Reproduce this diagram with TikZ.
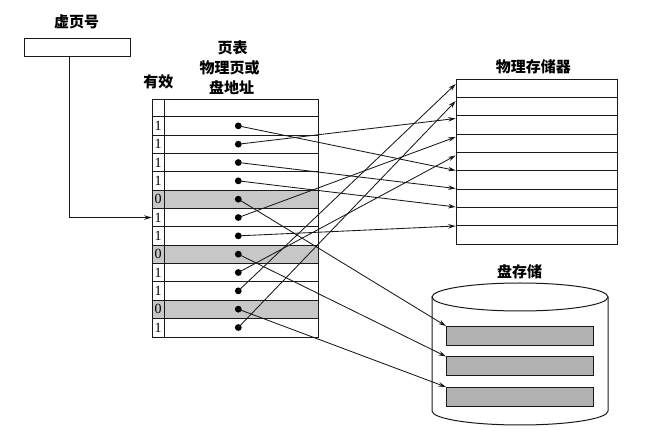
\documentclass[tikz,border=0pt]{standalone}
\usepackage{fontspec}
\newfontfamily\cjk{Noto Sans CJK SC}
\setmainfont{Liberation Serif}
\usetikzlibrary{arrows.meta,calc}
\begin{document}
\begin{tikzpicture}[x=1pt,y=-1pt,
  lbl/.style={font=\cjk\fontsize{15}{17}\selectfont\bfseries, inner sep=0pt},
  bit/.style={font=\fontsize{14}{15}\selectfont, inner sep=0pt},
  frame/.style={draw=black!90, line width=1pt},
  shade/.style={fill=black!22},
  slot/.style={draw=black!90, line width=1pt, fill=black!30},
  dot/.style={circle, fill=black, inner sep=0pt, minimum size=6.8pt},
  link/.style={draw=black!90, line width=0.85pt, -{Stealth[length=7.5pt,width=4.5pt]}}]
\useasboundingbox (0,0) rectangle (665,435);

% virtual page number
\node[lbl] (vlabel) at (76.7,21.7) {虚页号};
\node[frame, minimum width=106pt, minimum height=17.7pt, inner sep=0pt, anchor=north west] (vbox) at (24,38.3) {};
\coordinate (vtap) at (69.3,56);

% page table labels
\node[lbl] (ptlabel) at (232.7,48.3) {页表};
\node[lbl] (pplabel) at (229.7,68.3) {物理页或};
\node[lbl] (dalabel) at (231.7,87.3) {盘地址};
\node[lbl] (vallabel) at (158.3,81.7) {有效};

% page table
\foreach \i in {5,8,11}{
  \fill[shade] (151.7,{116.7+(\i-1)*18.333}) rectangle (317.7,{116.7+\i*18.333});
}
\node[frame, minimum width=166pt, minimum height=237.7pt, inner sep=0pt, anchor=north west] (table) at (151.7,99) {};
\foreach \i in {0,...,11}{
  \draw[frame] (151.7,{116.7+\i*18.333}) -- (317.7,{116.7+\i*18.333});
}
\draw[frame] (164.3,99) -- (164.3,336.7);
\foreach \i/\b in {1/1,2/1,3/1,4/1,5/0,6/1,7/1,8/0,9/1,10/1,11/0,12/1}{
  \node[bit] (b\i) at (158,{116.7+(\i-0.5)*18.333}) {\b};
  \node[dot] (d\i) at (238.3,{116.7+(\i-0.5)*18.333}) {};
}

% virtual page arrow
\coordinate (bend) at (69.3,{116.7+5.5*18.333});
\draw[draw=black!90, line width=0.85pt, -{Stealth[length=7.5pt,width=4.5pt]}] (vtap) -- (bend) -- (table.west |- bend);

% physical memory
\node[lbl] (pmlabel) at (533.3,66.7) {物理存储器};
\node[frame, minimum width=161pt, minimum height=165pt, inner sep=0pt, anchor=north west] (mem) at (455.7,79.3) {};
\foreach \j in {1,...,8}{
  \draw[frame] (455.7,{79.3+\j*18.333}) -- (616.7,{79.3+\j*18.333});
}
\foreach \j/\y in {1/84,2/101,3/118.5,4/137,5/155.5,6/170.5,7/188.5,8/207,9/226}{
  \coordinate (m\j) at (455.7,\y);
}

% disk
\node[lbl] (dklabel) at (519.5,271.7) {盘存储};
\draw[frame] (520,297) ellipse (88pt and 14pt);
\draw[frame] (432,297) -- (432,411) arc[start angle=180, end angle=360, x radius=88pt, y radius=14pt] -- (608,297);
\node[slot, minimum width=147.3pt, minimum height=19pt, inner sep=0pt, anchor=north west] (s1) at (446,326) {};
\node[slot, minimum width=147.3pt, minimum height=19pt, inner sep=0pt, anchor=north west] (s2) at (446,356.5) {};
\node[slot, minimum width=147.3pt, minimum height=19pt, inner sep=0pt, anchor=north west] (s3) at (446,387) {};

% mappings
\foreach \a/\b in {1/6,2/3,3/7,4/8,6/4,7/9,9/5,10/1,12/2}{
  \draw[link] (d\a.center) -- (m\b);
}
\draw[link] (d5.center) -- (s1.north west);
\draw[link] (d8.center) -- (s2.north west);
\draw[link] (d11.center) -- (s3.north west);
\end{tikzpicture}
\end{document}
